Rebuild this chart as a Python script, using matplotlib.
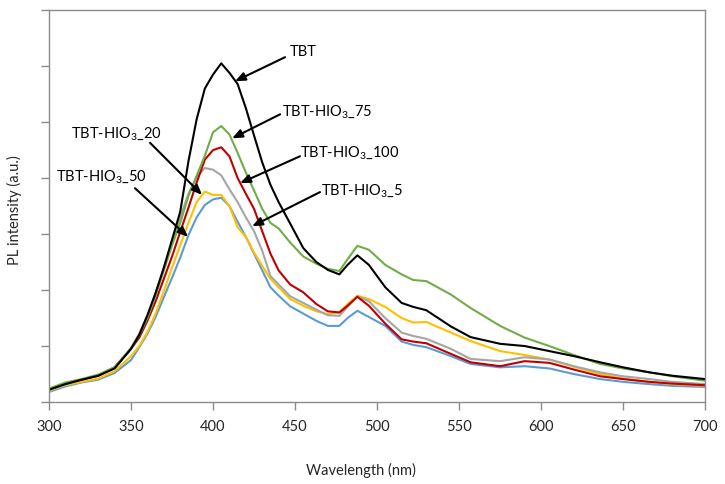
"""PL spectra of TBT and TBT-HIO3 samples."""
import matplotlib
matplotlib.use("Agg")
import matplotlib.pyplot as plt

plt.rcParams["font.family"] = ["Lato", "DejaVu Sans"]
plt.rcParams["mathtext.fontset"] = "custom"
plt.rcParams["mathtext.rm"] = "Lato"
plt.rcParams["mathtext.it"] = "Lato"

wavelength = [300, 310, 320, 330, 340, 350, 355, 360, 365, 370, 375, 380, 385, 390, 395,
              400, 405, 410, 415, 420, 425, 430, 435, 440, 447, 455, 463, 470, 477, 482,
              488, 495, 505, 515, 522, 530, 545, 557, 575, 590, 605, 620, 636, 650, 666,
              680, 700]

tbt = [0.22, 0.32, 0.40, 0.47, 0.60, 0.95, 1.20, 1.55, 1.95, 2.40, 2.90, 3.40, 4.30, 5.05, 5.60,
       5.85, 6.05, 5.88, 5.68, 5.25, 4.76, 4.28, 3.88, 3.57, 3.19, 2.75, 2.50, 2.36, 2.28, 2.45,
       2.62, 2.45, 2.05, 1.77, 1.70, 1.64, 1.35, 1.16, 1.04, 1.00, 0.91, 0.82, 0.71, 0.62, 0.53,
       0.47, 0.41]

hio3_75 = [0.24, 0.35, 0.41, 0.49, 0.62, 0.95, 1.20, 1.50, 1.90, 2.35, 2.80, 3.20, 3.68, 4.04, 4.40,
           4.82, 4.93, 4.78, 4.45, 4.10, 3.78, 3.45, 3.20, 3.10, 2.85, 2.60, 2.47, 2.38, 2.34, 2.55,
           2.79, 2.72, 2.45, 2.28, 2.18, 2.16, 1.92, 1.68, 1.36, 1.15, 1.00, 0.84, 0.68, 0.60, 0.53,
           0.46, 0.38]

hio3_100 = [0.23, 0.33, 0.40, 0.47, 0.62, 0.95, 1.15, 1.45, 1.80, 2.20, 2.60, 3.04, 3.47, 3.92, 4.33,
            4.50, 4.55, 4.39, 4.00, 3.72, 3.45, 3.05, 2.65, 2.35, 2.10, 1.96, 1.75, 1.62, 1.60, 1.72,
            1.88, 1.72, 1.40, 1.12, 1.08, 1.05, 0.86, 0.71, 0.64, 0.73, 0.70, 0.58, 0.46, 0.41, 0.36,
            0.33, 0.30]

hio3_5 = [0.22, 0.32, 0.40, 0.47, 0.62, 0.97, 1.22, 1.55, 1.95, 2.40, 2.85, 3.30, 3.72, 4.02, 4.18,
          4.15, 4.05, 3.80, 3.57, 3.30, 3.05, 2.70, 2.25, 2.10, 1.89, 1.77, 1.65, 1.55, 1.54, 1.70,
          1.89, 1.80, 1.50, 1.24, 1.18, 1.13, 0.95, 0.77, 0.73, 0.80, 0.76, 0.64, 0.53, 0.46, 0.41,
          0.36, 0.32]

hio3_20 = [0.20, 0.30, 0.36, 0.42, 0.55, 0.82, 1.00, 1.25, 1.58, 1.98, 2.40, 2.80, 3.20, 3.57, 3.76,
           3.70, 3.70, 3.50, 3.12, 2.95, 2.67, 2.43, 2.20, 2.05, 1.84, 1.72, 1.62, 1.57, 1.60, 1.75,
           1.90, 1.84, 1.70, 1.50, 1.42, 1.43, 1.24, 1.09, 0.91, 0.84, 0.76, 0.63, 0.50, 0.42, 0.36,
           0.32, 0.29]

hio3_50 = [0.18, 0.28, 0.35, 0.40, 0.52, 0.75, 0.98, 1.22, 1.52, 1.87, 2.22, 2.58, 2.98, 3.30, 3.52,
           3.62, 3.65, 3.50, 3.22, 2.95, 2.65, 2.35, 2.05, 1.90, 1.71, 1.58, 1.45, 1.36, 1.36, 1.50,
           1.63, 1.52, 1.36, 1.08, 1.02, 0.98, 0.82, 0.68, 0.62, 0.64, 0.60, 0.50, 0.41, 0.36, 0.32,
           0.29, 0.27]

# (label, series, colour) in drawing order
series = [
    ("TBT-HIO$_3$_50", hio3_50, "#5B9BD5"),
    ("TBT-HIO$_3$_20", hio3_20, "#FFC000"),
    ("TBT-HIO$_3$_5", hio3_5, "#A5A5A5"),
    ("TBT-HIO$_3$_100", hio3_100, "#C00000"),
    ("TBT-HIO$_3$_75", hio3_75, "#70AD47"),
    ("TBT", tbt, "#000000"),
]

# label text position, arrow tail, arrow head (data coords)
labels = ["TBT", "TBT-HIO$_3$_75", "TBT-HIO$_3$_100", "TBT-HIO$_3$_5",
          "TBT-HIO$_3$_20", "TBT-HIO$_3$_50"]
label_pos = [(454.9, 6.27), (469.5, 5.20), (483.5, 4.48), (490.9, 3.80),
             (340.9, 4.82), (331.7, 4.04)]
arrow_tail = [(443.9, 6.16), (440.9, 5.14), (453.0, 4.39), (465.2, 3.75),
              (361.6, 4.63), (352.4, 3.82)]
arrow_head = [(413.4, 5.73), (411.6, 4.71), (416.5, 3.91), (423.8, 3.14),
              (393.3, 3.70), (384.8, 2.95)]

fig = plt.figure(figsize=(7.25, 4.85), dpi=100)
ax = fig.add_axes([0.0676, 0.169, 0.905, 0.808])

for name, vals, col in series:
    ax.plot(wavelength, vals, color=col, lw=1.5, solid_joinstyle="round")

for txt, pos, tail, head in zip(labels, label_pos, arrow_tail, arrow_head):
    ax.text(pos[0], pos[1], txt, ha="center", va="center", fontsize=10.5, color="black")
    ax.annotate("", xy=head, xytext=tail,
                arrowprops=dict(arrowstyle="-|>,head_length=0.6,head_width=0.25",
                                color="black", lw=1.5, shrinkA=0, shrinkB=0))

ax.set_xlim(300, 700)
ax.set_ylim(0, 7)
ax.set_xticks(range(300, 701, 50))
ax.set_yticks(range(0, 8))
ax.set_yticklabels([])
for sp in ax.spines.values():
    sp.set_color("#8C8C8C")
    sp.set_linewidth(1.0)
ax.tick_params(axis="both", direction="out", length=6, width=1.0, color="#8C8C8C",
               labelsize=10.5, labelcolor="#262626")
ax.tick_params(axis="x", pad=6)

ax.set_xlabel("Wavelength (nm)", fontsize=10.5, color="#262626")
ax.set_ylabel("PL intensity (a.u.)", fontsize=10.5, color="#262626")
ax.xaxis.set_label_coords(0.476, -0.153)
ax.yaxis.set_label_coords(-0.041, 0.492)

fig.savefig("out.png", dpi=100)
